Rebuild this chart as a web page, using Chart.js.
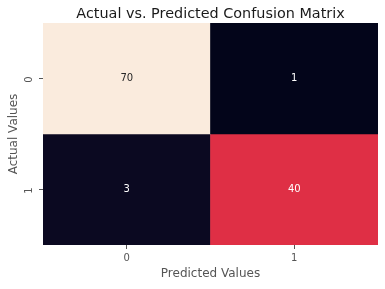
<!DOCTYPE html>
<html>
<head>
<meta charset="utf-8">
<script src="https://cdn.jsdelivr.net/npm/chart.js@4.4.0/dist/chart.umd.min.js"></script>
<style>
  html, body { margin: 0; padding: 0; background: #fff; }
  #wrap { width: 385px; height: 289px; }
</style>
</head>
<body>
<div id="wrap"><canvas id="cm"></canvas></div>
<script>
// confusion matrix data
const predLabels = ['0', '1'];
const actualLabels = ['0', '1'];
const row0 = [70, 1];
const row1 = [3, 40];
const rows = [row0, row1];

const titleText = 'Actual vs. Predicted Confusion Matrix';
const xTitle = 'Predicted Values';
const yTitle = 'Actual Values';

// rough rocket colormap
const rocket = [
  [0.0, [3, 5, 26]],
  [0.1, [30, 18, 50]],
  [0.25, [76, 29, 75]],
  [0.4, [142, 29, 91]],
  [0.5, [203, 27, 79]],
  [0.6, [234, 58, 63]],
  [0.7, [243, 118, 81]],
  [0.8, [245, 158, 114]],
  [0.9, [248, 200, 164]],
  [1.0, [250, 235, 221]],
];

const allVals = row0.concat(row1);
const vmin = Math.min(...allVals);
const vmax = Math.max(...allVals);

function cmap(v) {
  let t = (v - vmin) / (vmax - vmin);
  for (let i = 1; i < rocket.length; i++) {
    if (t <= rocket[i][0]) {
      const a = rocket[i - 1], b = rocket[i];
      const f = (t - a[0]) / (b[0] - a[0]);
      const c = a[1].map((x, k) => Math.round(x + (b[1][k] - x) * f));
      return c;
    }
  }
  return rocket[rocket.length - 1][1];
}
function rgb(c) { return `rgb(${c[0]},${c[1]},${c[2]})`; }
function lum(c) { return (0.299 * c[0] + 0.587 * c[1] + 0.114 * c[2]) / 255; }

const FONT = "'DejaVu Sans', sans-serif";

// one dataset per row, floating bars spanning the row
const datasets = rows.map((vals, r) => ({
  label: 'row ' + actualLabels[r],
  data: vals.map(() => [r - 0.5, r + 0.5]),
  backgroundColor: vals.map(v => rgb(cmap(v))),
  borderWidth: 0,
  barPercentage: 1,
  categoryPercentage: 1,
  grouped: false,
}));

// title centred over the cells, cell numbers, rotated y tick labels
const cmText = {
  id: 'cmText',
  afterDatasetsDraw(chart) {
    const ctx = chart.ctx;
    const xs = chart.scales.x, ys = chart.scales.y;
    ctx.save();
    ctx.textAlign = 'center';
    ctx.textBaseline = 'middle';
    ctx.font = '10px ' + FONT;
    rows.forEach((vals, r) => {
      vals.forEach((v, c) => {
        const col = cmap(v);
        ctx.fillStyle = lum(col) > 0.5 ? '#262626' : '#ffffff';
        ctx.fillText(String(v), xs.getPixelForValue(c), ys.getPixelForValue(r));
      });
    });
    // y tick labels, turned like matplotlib's
    ctx.fillStyle = '#555';
    actualLabels.forEach((l, i) => {
      ctx.save();
      ctx.translate(ys.right - 14, ys.getPixelForValue(i) + 1);
      ctx.rotate(-Math.PI / 2);
      ctx.fillText(l, 0, 0);
      ctx.restore();
    });
    const ca = chart.chartArea;
    ctx.fillStyle = '#1a1a1a';
    ctx.font = '14.4px ' + FONT;
    ctx.textBaseline = 'alphabetic';
    ctx.fillText(titleText, (ca.left + ca.right) / 2, ca.top - 5);
    ctx.restore();
  }
};

new Chart(document.getElementById('cm'), {
  type: 'bar',
  data: { labels: predLabels, datasets: datasets },
  options: {
    responsive: true,
    maintainAspectRatio: false,
    animation: false,
    layout: { padding: { top: 23, right: 7, left: 0, bottom: 0 } },
    plugins: { legend: { display: false }, tooltip: { enabled: false } },
    scales: {
      x: {
        offset: true,
        grid: { offset: false, drawOnChartArea: false, drawTicks: true, tickLength: 4, color: '#555' },
        border: { display: false },
        ticks: { color: '#555', font: { family: FONT, size: 10 }, padding: 3, maxRotation: 0 },
        title: { display: true, text: xTitle, color: '#555', font: { family: FONT, size: 12 }, padding: { top: 0, bottom: 8 } },
        afterFit(s) { s.height = 44; }
      },
      y: {
        type: 'linear',
        min: -0.5,
        max: 1.5,
        reverse: true,
        afterBuildTicks(s) { s.ticks = actualLabels.map((l, i) => ({ value: i })); },
        grid: { drawOnChartArea: false, drawTicks: true, tickLength: 4, color: '#555' },
        border: { display: false },
        ticks: { display: false },
        title: { display: true, text: yTitle, color: '#555', font: { family: FONT, size: 12 }, padding: { top: 7, bottom: 0 } },
        afterFit(s) { s.width = 43; }
      }
    }
  },
  plugins: [cmText]
});
</script>
</body>
</html>
